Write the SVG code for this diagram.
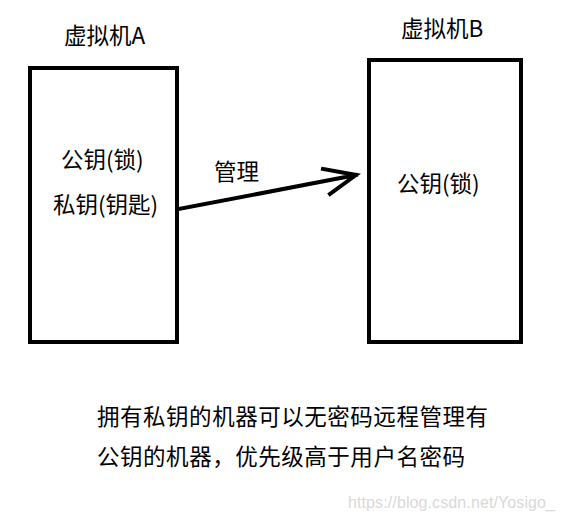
<svg xmlns="http://www.w3.org/2000/svg" width="561" height="521" viewBox="0 0 561 521">
<style>
.t{font-family:"Noto Sans CJK SC","Liberation Sans",sans-serif;font-size:22.5px;fill:#000}
.box{fill:none;stroke:#000;stroke-width:4}
.ln{fill:none;stroke:#000;stroke-width:4;stroke-linecap:square}
.wm{font-family:"Liberation Sans",sans-serif;font-size:16px;fill:#d9d9d9}
</style>
<rect width="561" height="521" fill="#fff"/>
<g id="vmA">
<text class="t" x="64" y="44">虚拟机A</text>
<rect class="box" x="30" y="68" width="147" height="274"/>
<text class="t" x="61" y="168">公钥(锁)</text>
<text class="t" x="53" y="213">私钥(钥匙)</text>
</g>
<g id="vmB">
<text class="t" x="401" y="37">虚拟机B</text>
<rect class="box" x="369" y="60" width="152" height="282"/>
<text class="t" x="397" y="192">公钥(锁)</text>
</g>
<g id="connectors">
<path class="ln" d="M179,209 L356,175 M323,169 L356,175 L330,194"/>
<text class="t" x="214" y="180">管理</text>
</g>
<g id="note">
<text class="t" x="97" y="425" textLength="391">拥有私钥的机器可以无密码远程管理有</text>
<text class="t" x="97" y="465" textLength="368">公钥的机器，优先级高于用户名密码</text>
</g>
<text class="wm" x="348" y="508" textLength="207">https://blog.csdn.net/Yosigo_</text>
</svg>
